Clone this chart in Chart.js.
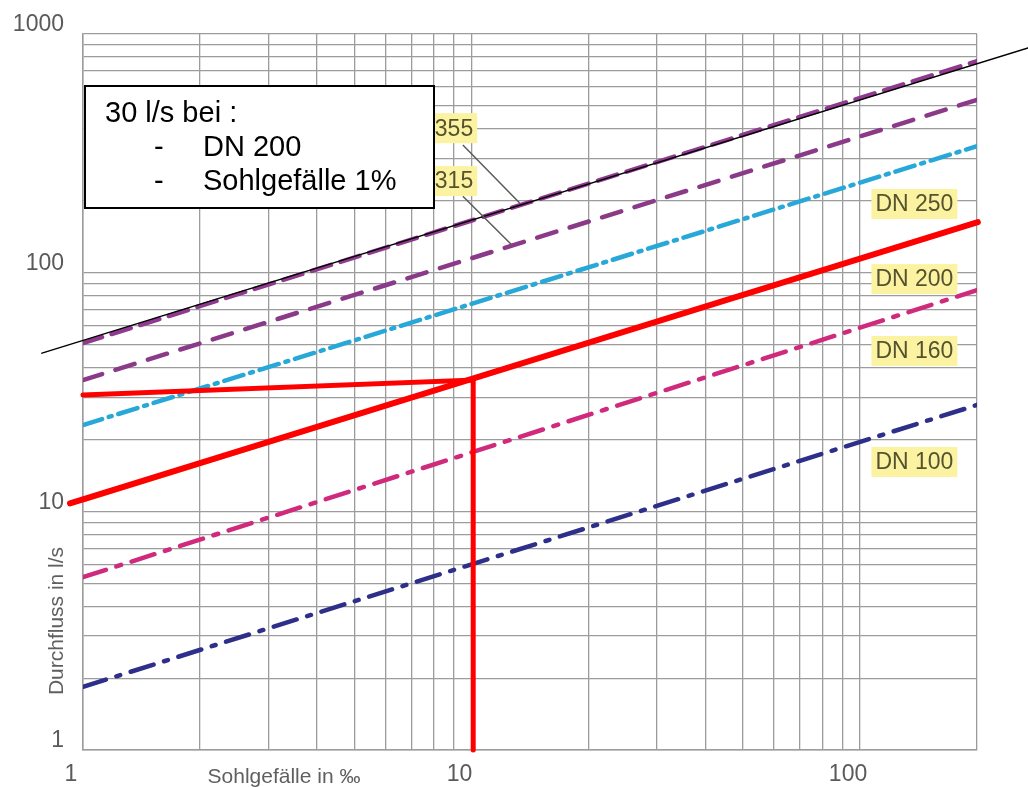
<!DOCTYPE html>
<html>
<head>
<meta charset="utf-8">
<script src="https://cdn.jsdelivr.net/npm/chart.js@4.4.0/dist/chart.umd.min.js"></script>
<style>
    html, body { margin: 0; background: #fff; }
    #wrap { width: 1028px; height: 787px; }
</style>
</head>
<body>
<div id="wrap"><canvas id="chart"></canvas></div>
<script>
// Sohlgefälle (‰) an den Enden der Kennlinien
let slopeEnds = [1, 200];

// Durchfluss (l/s) je Rohr bei 1 ‰ und 200 ‰
let dn355 = [50.7, 770];
let dn315 = [35.5, 530];
let dn250 = [23, 339];
let dn200 = [11.1, 163];
let dn160 = [5.3, 84.5];
let dn100 = [1.84, 27.9];

// Handgezeichnete Hilfslinien
let blackX = [0.784, 270.6];
let blackY = [46, 873];
let redX = [0.926, 201];
let redY = [10.8, 163];
let red30X = [1, 10.1, 10.1];
let red30Y = [30.7, 35.5, 1];

// Achsen
let xGrid = [1, 2, 3, 4, 5, 6, 7, 8, 9, 10, 20, 30, 40, 50, 60, 70, 80, 90, 100, 200];
let yGrid = [1, 2, 3, 4, 5, 6, 7, 8, 9, 10, 20, 30, 40, 50, 60, 70, 80, 90,
    100, 200, 300, 400, 500, 600, 700, 800, 900, 1000];
let xTickLabels = [1, 10, 100];
let yTickLabels = [1, 10, 100, 1000];

// Beschriftungen an den Kennlinien (Text, Sohlgefälle, Durchfluss)
let dnLabels = ['DN 355', 'DN 315', 'DN 250', 'DN 200', 'DN 160', 'DN 100'];
let dnLabelX = [10.1, 10.1, 138, 138, 138, 138];
let dnLabelY = [403, 242, 194, 94, 47, 16.1];
let leaderFromX = [9.5, 9.5];
let leaderFromY = [343, 209];
let leaderToX = [13.3, 12.7];
let leaderToY = [196, 130.6];

const FONT = "'Liberation Sans', Arial, sans-serif";


function points(xs, ys) {
    return xs.map((x, i) => ({ x: x, y: ys[i] }));
}


// -------- BESCHRIFTUNG, KASTEN, ACHSENTITEL -------- //

const overlayPlugin = {
    id: 'overlay',
    afterDatasetsDraw(chart) {
        const ctx = chart.ctx;
        const x = chart.scales.x;
        const y = chart.scales.y;
        ctx.save();

        // Hinweislinien zu DN 355 / DN 315
        ctx.strokeStyle = '#5a5a5a';
        ctx.lineWidth = 1.5;
        for (let i = 0; i < leaderFromX.length; i++) {
            ctx.beginPath();
            ctx.moveTo(x.getPixelForValue(leaderFromX[i]), y.getPixelForValue(leaderFromY[i]));
            ctx.lineTo(x.getPixelForValue(leaderToX[i]), y.getPixelForValue(leaderToY[i]));
            ctx.stroke();
        }

        // gelb hinterlegte Labels
        ctx.font = '23px ' + FONT;
        ctx.textBaseline = 'middle';
        for (let i = 0; i < dnLabels.length; i++) {
            let px = x.getPixelForValue(dnLabelX[i]);
            let py = y.getPixelForValue(dnLabelY[i]);
            let w = ctx.measureText(dnLabels[i]).width;
            let left = i < 2 ? px - w : px - w / 2;
            ctx.fillStyle = '#fbf3a2';
            ctx.fillRect(left - 4, py - 15, w + 8, 30);
            ctx.fillStyle = '#55532e';
            ctx.textAlign = 'left';
            ctx.fillText(dnLabels[i], left, py + 1);
        }

        // Kasten oben links
        ctx.fillStyle = '#fff';
        ctx.fillRect(85, 86, 349, 122);
        ctx.strokeStyle = '#000';
        ctx.lineWidth = 2;
        ctx.strokeRect(85, 86, 349, 122);
        ctx.fillStyle = '#000';
        ctx.font = '29px ' + FONT;
        ctx.textAlign = 'left';
        ctx.fillText('30 l/s bei :', 105, 114);
        ctx.fillText('-', 154, 148);
        ctx.fillText('DN 200', 203, 148);
        ctx.fillText('-', 154, 182);
        ctx.fillText('Sohlgefälle 1%', 203, 182);

        // Achsentitel
        ctx.fillStyle = '#5f5f5f';
        ctx.font = '21px ' + FONT;
        ctx.textAlign = 'center';
        ctx.fillText('Sohlgefälle in ‰', 284, 777);
        ctx.translate(57, 621);
        ctx.rotate(-Math.PI / 2);
        ctx.fillText('Durchfluss in l/s', 0, 0);

        ctx.restore();
    }
};


// -------- DIAGRAMM -------- //

function lineSet(label, xs, ys, color, width, dash, order, clip) {
    return {
        label: label,
        data: points(xs, ys),
        borderColor: color,
        borderWidth: width,
        borderDash: dash,
        borderCapStyle: 'round',
        pointRadius: 0,
        showLine: true,
        fill: false,
        order: order,
        clip: clip
    };
}

new Chart(document.getElementById('chart'), {
    type: 'scatter',
    data: {
        datasets: [
            lineSet('Hilfslinie', blackX, blackY, '#000', 1.5, [], 0, false),
            lineSet('30 l/s', red30X, red30Y, '#ff0000', 5, [], 1, false),
            lineSet('DN 200 markiert', redX, redY, '#ff0000', 6, [], 2, false),
            lineSet('DN 355', slopeEnds, dn355, '#8f3a8e', 4.5, [20, 10], 5, true),
            lineSet('DN 315', slopeEnds, dn315, '#8a3a88', 4.5, [20, 14], 5, true),
            lineSet('DN 250', slopeEnds, dn250, '#27a8d8', 4.5, [20, 7, 3, 7], 5, true),
            lineSet('DN 200', slopeEnds, dn200, '#f6b24a', 4, [], 6, true),
            lineSet('DN 160', slopeEnds, dn160, '#cf2a7b', 4.5, [24, 11, 5, 11], 5, true),
            lineSet('DN 100', slopeEnds, dn100, '#2d2f88', 4.5, [24, 11, 4, 11], 5, true)
        ]
    },
    options: {
        responsive: true,
        maintainAspectRatio: false,
        animation: false,
        layout: { padding: { top: 34, right: 51, left: 0, bottom: 0 } },
        plugins: {
            legend: { display: false },
            tooltip: { enabled: false }
        },
        scales: {
            x: {
                type: 'logarithmic',
                min: 1,
                max: 200,
                afterBuildTicks: (scale) => { scale.ticks = xGrid.map(v => ({ value: v })); },
                afterFit: (scale) => { scale.height = 37; },
                ticks: {
                    autoSkip: false,
                    maxRotation: 0,
                    padding: 11,
                    labelOffset: -12,
                    color: '#5a5a5a',
                    font: { family: FONT, size: 23 },
                    callback: (v) => xTickLabels.includes(v) ? String(v) : ''
                },
                grid: { color: '#9c9c9c', lineWidth: 1.3, drawTicks: false },
                border: { color: '#9c9c9c', width: 1.5 }
            },
            y: {
                type: 'logarithmic',
                min: 1,
                max: 1000,
                afterBuildTicks: (scale) => { scale.ticks = yGrid.map(v => ({ value: v })); },
                afterFit: (scale) => { scale.width = 83; },
                ticks: {
                    autoSkip: false,
                    padding: 19,
                    labelOffset: -9,
                    color: '#5a5a5a',
                    font: { family: FONT, size: 23 },
                    callback: (v) => yTickLabels.includes(v) ? String(v) : ''
                },
                grid: { color: '#9c9c9c', lineWidth: 1.3, drawTicks: false },
                border: { color: '#9c9c9c', width: 1.5 }
            }
        }
    },
    plugins: [overlayPlugin]
});
</script>
</body>
</html>
